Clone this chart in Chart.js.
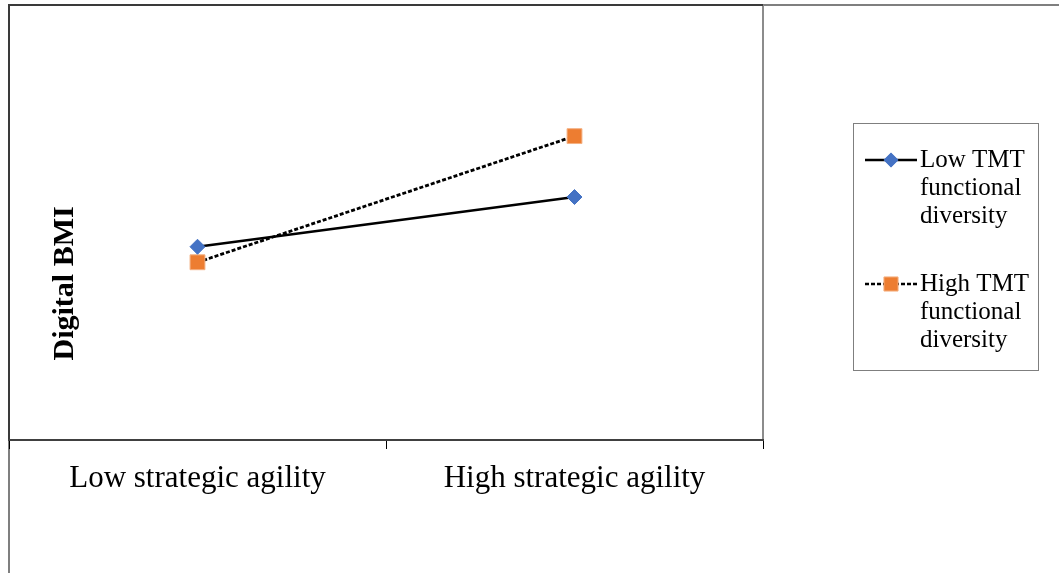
<!DOCTYPE html>
<html>
<head>
<meta charset="utf-8">
<script src="https://cdn.jsdelivr.net/npm/chart.js@4/dist/chart.umd.min.js"></script>
<style>
  html, body { margin: 0; padding: 0; background: #fff; }
  #wrap { position: relative; width: 1059px; height: 573px; }
</style>
</head>
<body>
<div id="wrap"><canvas id="slopeChart" width="1059" height="573"></canvas></div>
<script>
// ---- data ----
const categories = ['Low strategic agility', 'High strategic agility'];
const seriesNames = ['Low TMT functional diversity', 'High TMT functional diversity'];
const lowTMT = [3.11, 3.91];
const highTMT = [2.86, 4.89];
const yTitle = 'Digital BMI';

const SERIF = "'Liberation Serif', 'Times New Roman', serif";

// frame lines (outer chart border + plot box)
const framePlugin = {
    id: 'frame',
    beforeDraw(chart) {
        const ctx = chart.ctx;
        const a = chart.chartArea;
        ctx.save();
        ctx.lineWidth = 2;
        // outer border
        ctx.strokeStyle = '#7f7f7f';
        ctx.beginPath();
        ctx.moveTo(a.left, chart.height);
        ctx.lineTo(a.left, a.top);
        ctx.lineTo(chart.width, a.top);
        ctx.stroke();
        // plot right edge
        ctx.strokeStyle = '#8c8c8c';
        ctx.beginPath();
        ctx.moveTo(a.right, a.top);
        ctx.lineTo(a.right, a.bottom);
        ctx.stroke();
        // plot top + left
        ctx.strokeStyle = '#3a3a3a';
        ctx.beginPath();
        ctx.moveTo(a.left, a.bottom);
        ctx.lineTo(a.left, a.top);
        ctx.lineTo(a.right, a.top);
        ctx.stroke();
        ctx.restore();
    },
    afterDraw(chart) {
        const ctx = chart.ctx;
        const a = chart.chartArea;
        // y axis title sits inside the plot box
        ctx.save();
        ctx.translate(a.left + 56, a.top + (a.bottom - a.top) * 0.64);
        ctx.rotate(-Math.PI / 2);
        ctx.font = 'bold 30px ' + SERIF;
        ctx.fillStyle = '#000';
        ctx.textAlign = 'center';
        ctx.textBaseline = 'middle';
        ctx.fillText(yTitle, 0, 0);
        ctx.restore();
    }
};

// boxed legend at the right with wrapped labels
const boxLegend = {
    id: 'boxLegend',
    afterDraw(chart) {
        const ctx = chart.ctx;
        const box = { x: 853.5, y: 123.5, w: 185, h: 247 };
        ctx.save();
        ctx.strokeStyle = '#7f7f7f';
        ctx.lineWidth = 1;
        ctx.strokeRect(box.x, box.y, box.w, box.h);

        ctx.font = '25px ' + SERIF;
        ctx.fillStyle = '#000';
        ctx.textBaseline = 'middle';
        ctx.textAlign = 'left';

        let y = 160;
        chart.data.datasets.forEach(ds => {
            // wrap label
            const words = ds.label.split(' ');
            const lines = [];
            let cur = '';
            words.forEach(w => {
                const t = cur ? cur + ' ' + w : w;
                if (ctx.measureText(t).width > 114 && cur) { lines.push(cur); cur = w; }
                else cur = t;
            });
            if (cur) lines.push(cur);

            // symbol
            ctx.save();
            ctx.strokeStyle = ds.borderColor;
            ctx.lineWidth = 2.5;
            ctx.setLineDash(ds.borderDash || []);
            ctx.beginPath();
            ctx.moveTo(865, y);
            ctx.lineTo(917, y);
            ctx.stroke();
            ctx.setLineDash([]);
            ctx.fillStyle = ds.pointBackgroundColor;
            ctx.strokeStyle = ds.pointBorderColor;
            ctx.lineWidth = 1;
            Chart.helpers.drawPoint(ctx, {
                pointStyle: ds.pointStyle,
                radius: ds.pointRadius * 0.95,
                rotation: 0,
                borderWidth: 1
            }, 891, y);
            ctx.restore();

            lines.forEach((ln, i) => ctx.fillText(ln, 920, y + i * 28));
            y += lines.length * 28 + 40;
        });
        ctx.restore();
    }
};

const ctx = document.getElementById('slopeChart').getContext('2d');
new Chart(ctx, {
    type: 'line',
    data: {
        labels: categories,
        datasets: [{
            label: seriesNames[0],
            data: lowTMT,
            borderColor: '#000',
            borderWidth: 2.5,
            pointStyle: 'rectRot',
            pointRadius: 7.5,
            pointBackgroundColor: '#4472c4',
            pointBorderColor: '#4472c4',
            pointBorderWidth: 1
        }, {
            label: seriesNames[1],
            data: highTMT,
            borderColor: '#000',
            borderWidth: 2.8,
            borderDash: [4, 2],
            pointStyle: 'rect',
            pointRadius: 10.5,
            pointBackgroundColor: '#ed7d31',
            pointBorderColor: '#f4b183',
            pointBorderWidth: 1
        }]
    },
    options: {
        responsive: false,
        animation: false,
        layout: { autoPadding: false, padding: { left: 9, top: 5, right: 296, bottom: 0 } },
        plugins: {
            legend: { display: false },
            tooltip: { enabled: false }
        },
        scales: {
            x: {
                offset: true,
                grid: {
                    offset: true,
                    drawOnChartArea: false,
                    drawTicks: true,
                    tickLength: 9,
                    tickColor: '#000',
                    lineWidth: 1
                },
                border: { display: true, color: '#404040', width: 2 },
                ticks: {
                    font: { family: SERIF, size: 31 },
                    color: '#000',
                    padding: 11,
                    maxRotation: 0
                },
                afterFit(scale) { scale.height = 133; }
            },
            y: {
                display: false,
                min: 0,
                max: 7
            }
        }
    },
    plugins: [framePlugin, boxLegend]
});
</script>
</body>
</html>
